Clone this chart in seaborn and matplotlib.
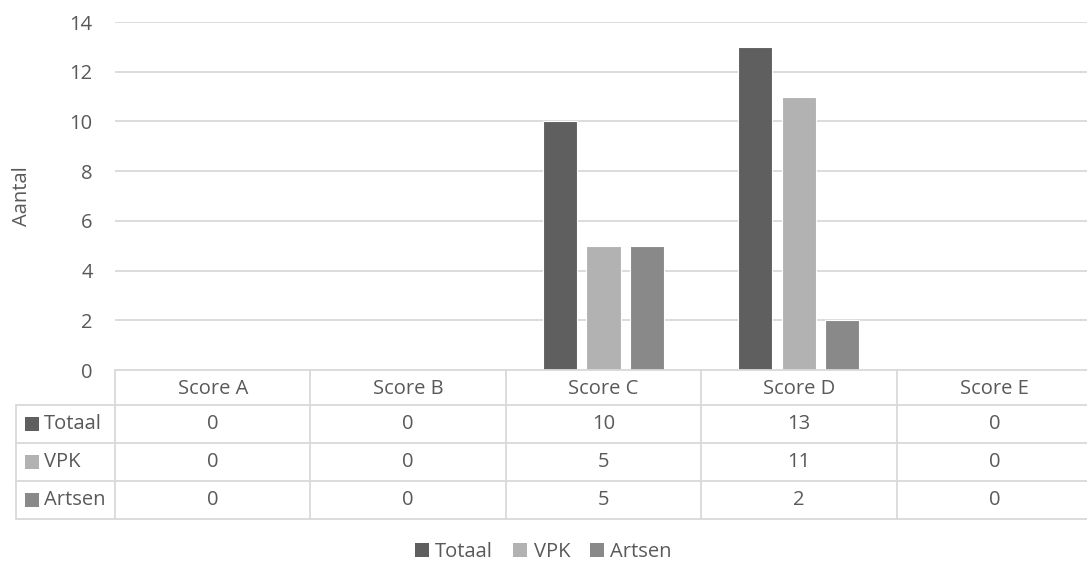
import matplotlib
matplotlib.use("Agg")
import matplotlib.pyplot as plt
from matplotlib.patches import Rectangle, Patch
import pandas as pd
import seaborn as sns

categories = ["Score A", "Score B", "Score C", "Score D", "Score E"]
series_names = ["Totaal", "VPK", "Artsen"]
totaal = [0, 0, 10, 13, 0]
vpk = [0, 0, 5, 11, 0]
artsen = [0, 0, 5, 2, 0]
y_ticks = [0, 2, 4, 6, 8, 10, 12, 14]
y_label = "Aantal"

colors = ["#5f5f5f", "#b2b2b2", "#898989"]
text_color = "#595959"
line_color = "#d9d9d9"

sns.set_theme(style="white")
plt.rcParams["font.family"] = ["Open Sans", "DejaVu Sans"]

W, H = 1087, 566
fig = plt.figure(figsize=(W / 100, H / 100), dpi=100)

# plot area and data-table area in pixel layout (the right edge runs past the canvas)
px_left, px_right, px_top, px_bottom = 115, 1092, 22, 370
table_left = 16
row_edges = [370, 405, 443, 481, 519]

ax = fig.add_axes([px_left / W, 1 - px_bottom / H,
                   (px_right - px_left) / W, (px_bottom - px_top) / H])

values = [totaal, vpk, artsen]
df = pd.DataFrame({
    "Score": [c for _ in series_names for c in categories],
    "Groep": [s for s in series_names for _ in categories],
    "Aantal": [v for vals in values for v in vals],
})

sns.barplot(data=df, x="Score", y="Aantal", hue="Groep", order=categories,
            hue_order=series_names, palette=colors, width=0.668, gap=0.218,
            edgecolor="white", linewidth=0.8, legend=False, ax=ax, zorder=3)

fs = 14.5
ax.set_xlim(-0.5, len(categories) - 0.5)
ax.set_ylim(0, 14)
ax.set_yticks(y_ticks)
ax.set_yticklabels([str(t) for t in y_ticks], color=text_color, fontsize=fs)
ax.tick_params(axis="y", length=0, pad=16)
ax.set_xticks([])
ax.set_xlabel("")
ax.set_ylabel("")
for t in y_ticks[1:]:
    ax.axhline(t, color=line_color, linewidth=1.3, zorder=1)
for s in ["top", "right", "left", "bottom"]:
    ax.spines[s].set_visible(False)

fig.text(22 / W, 1 - (px_top + px_bottom) / 2 / H, y_label, rotation=90,
         ha="center", va="center", color=text_color, fontsize=fs)

# data table below the chart
tax = fig.add_axes([table_left / W, 1 - row_edges[-1] / H,
                    (px_right - table_left) / W, (row_edges[-1] - row_edges[0]) / H])
cat_w = (px_right - px_left) / len(categories)
x0 = -0.5 - (px_left - table_left) / cat_w
xr = len(categories) - 0.5
tax.set_xlim(x0, xr)
tax.set_ylim(row_edges[-1], row_edges[0])
tax.axis("off")

lw = 1.3
tax.plot([-0.5, xr], [row_edges[0]] * 2, color=line_color, lw=lw, clip_on=False)
for i in range(len(categories) + 1):
    tax.plot([i - 0.5] * 2, [row_edges[0], row_edges[-1]], color=line_color, lw=lw, clip_on=False)
for y in row_edges[1:]:
    tax.plot([x0, xr], [y, y], color=line_color, lw=lw, clip_on=False)
tax.plot([x0, x0], [row_edges[1], row_edges[-1]], color=line_color, lw=lw, clip_on=False)

for i, c in enumerate(categories):
    tax.text(i, (row_edges[0] + row_edges[1]) / 2 + 1, c, ha="center", va="center",
             color=text_color, fontsize=fs)

sq = 14
for r, (name, vals, col) in enumerate(zip(series_names, values, colors)):
    yc = (row_edges[r + 1] + row_edges[r + 2]) / 2
    sx = x0 + 9 / cat_w
    tax.add_patch(Rectangle((sx, yc - sq / 2), sq / cat_w, sq, color=col, lw=0))
    tax.text(sx + (sq + 5) / cat_w, yc, name, ha="left", va="center",
             color=text_color, fontsize=fs)
    for i, v in enumerate(vals):
        tax.text(i, yc, str(v), ha="center", va="center", color=text_color, fontsize=fs)

handles = [Patch(facecolor=c, edgecolor="none", label=n) for n, c in zip(series_names, colors)]
fig.legend(handles=handles, loc="center", bbox_to_anchor=(0.5, 1 - 552 / H), ncol=3,
           frameon=False, fontsize=fs, labelcolor=text_color, handlelength=0.7,
           handleheight=0.7, handletextpad=0.3, columnspacing=1.0)

fig.savefig("out.png", dpi=100, facecolor="white")
